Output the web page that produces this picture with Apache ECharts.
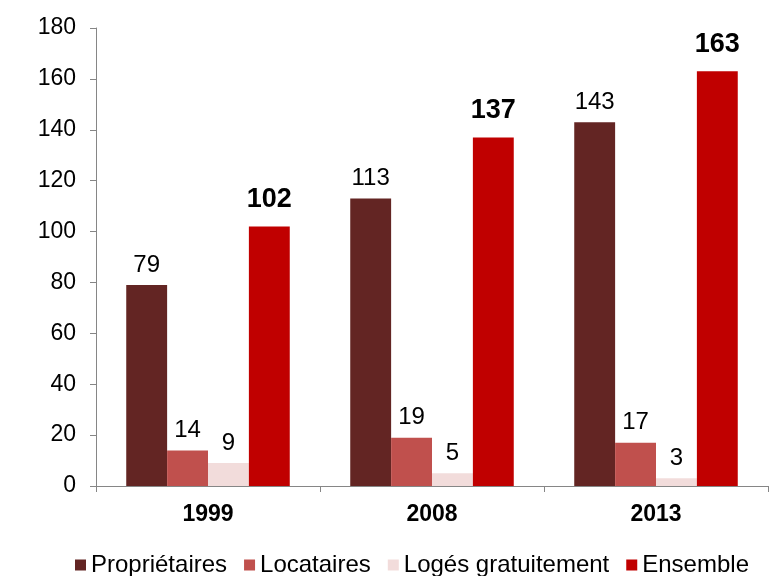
<!DOCTYPE html>
<html>
<head>
<meta charset="utf-8">
<script src="https://cdn.jsdelivr.net/npm/echarts@6/dist/echarts.min.js"></script>
<style>
  html, body { margin: 0; padding: 0; background: #fff; }
  #main { width: 783px; height: 576px; }
</style>
</head>
<body>
<div id="main"></div>
<script>
// données
var years = ['1999', '2008', '2013']
var proprietaires = [79, 113, 143]
var locataires = [14, 19, 17]
var logesGratuitement = [9, 5, 3]
var ensemble = [102, 137, 163]
var yTicks = [0, 20, 40, 60, 80, 100, 120, 140, 160, 180]

var font = '"Liberation Sans", Arial, sans-serif'
var axisGray = '#868686'

var myChart = echarts.init(document.getElementById('main'))

function barSeries (name, data, color, bold) {
  return {
    name: name,
    type: 'bar',
    data: data,
    barGap: '0%',
    barCategoryGap: '27%',
    itemStyle: { color: color },
    label: {
      show: true,
      position: 'top',
      distance: bold ? 13 : 8,
      color: '#000',
      fontFamily: font,
      fontSize: bold ? 27 : 24,
      fontWeight: bold ? 'bold' : 'normal'
    }
  }
}

var option = {
  animation: false,
  textStyle: { fontFamily: font },
  grid: { left: 96, right: 15, top: 28, bottom: 90 },
  legend: {
    top: 548,
    left: 70,
    itemWidth: 11,
    itemHeight: 11,
    itemGap: 17,
    icon: 'rect',
    textStyle: { fontFamily: font, fontSize: 24, color: '#000' },
    data: ['Propriétaires', 'Locataires', 'Logés gratuitement', 'Ensemble']
  },
  xAxis: {
    type: 'category',
    data: years,
    axisLine: { lineStyle: { color: axisGray, width: 1 } },
    axisTick: { show: true, length: 6, lineStyle: { color: axisGray } },
    axisLabel: {
      margin: 17,
      color: '#000',
      fontFamily: font,
      fontSize: 23,
      fontWeight: 'bold'
    }
  },
  yAxis: {
    type: 'value',
    min: yTicks[0],
    max: yTicks[yTicks.length - 1],
    interval: 20,
    splitLine: { show: false },
    axisLine: { show: true, lineStyle: { color: axisGray, width: 1 } },
    axisTick: { show: true, length: 6, lineStyle: { color: axisGray } },
    axisLabel: {
      margin: 20,
      color: '#000',
      fontFamily: font,
      fontSize: 23
    }
  },
  series: [
    barSeries('Propriétaires', proprietaires, '#632523', false),
    barSeries('Locataires', locataires, '#C0504D', false),
    barSeries('Logés gratuitement', logesGratuitement, '#F2DCDB', false),
    barSeries('Ensemble', ensemble, '#C00000', true)
  ]
}

myChart.setOption(option)
</script>
</body>
</html>
